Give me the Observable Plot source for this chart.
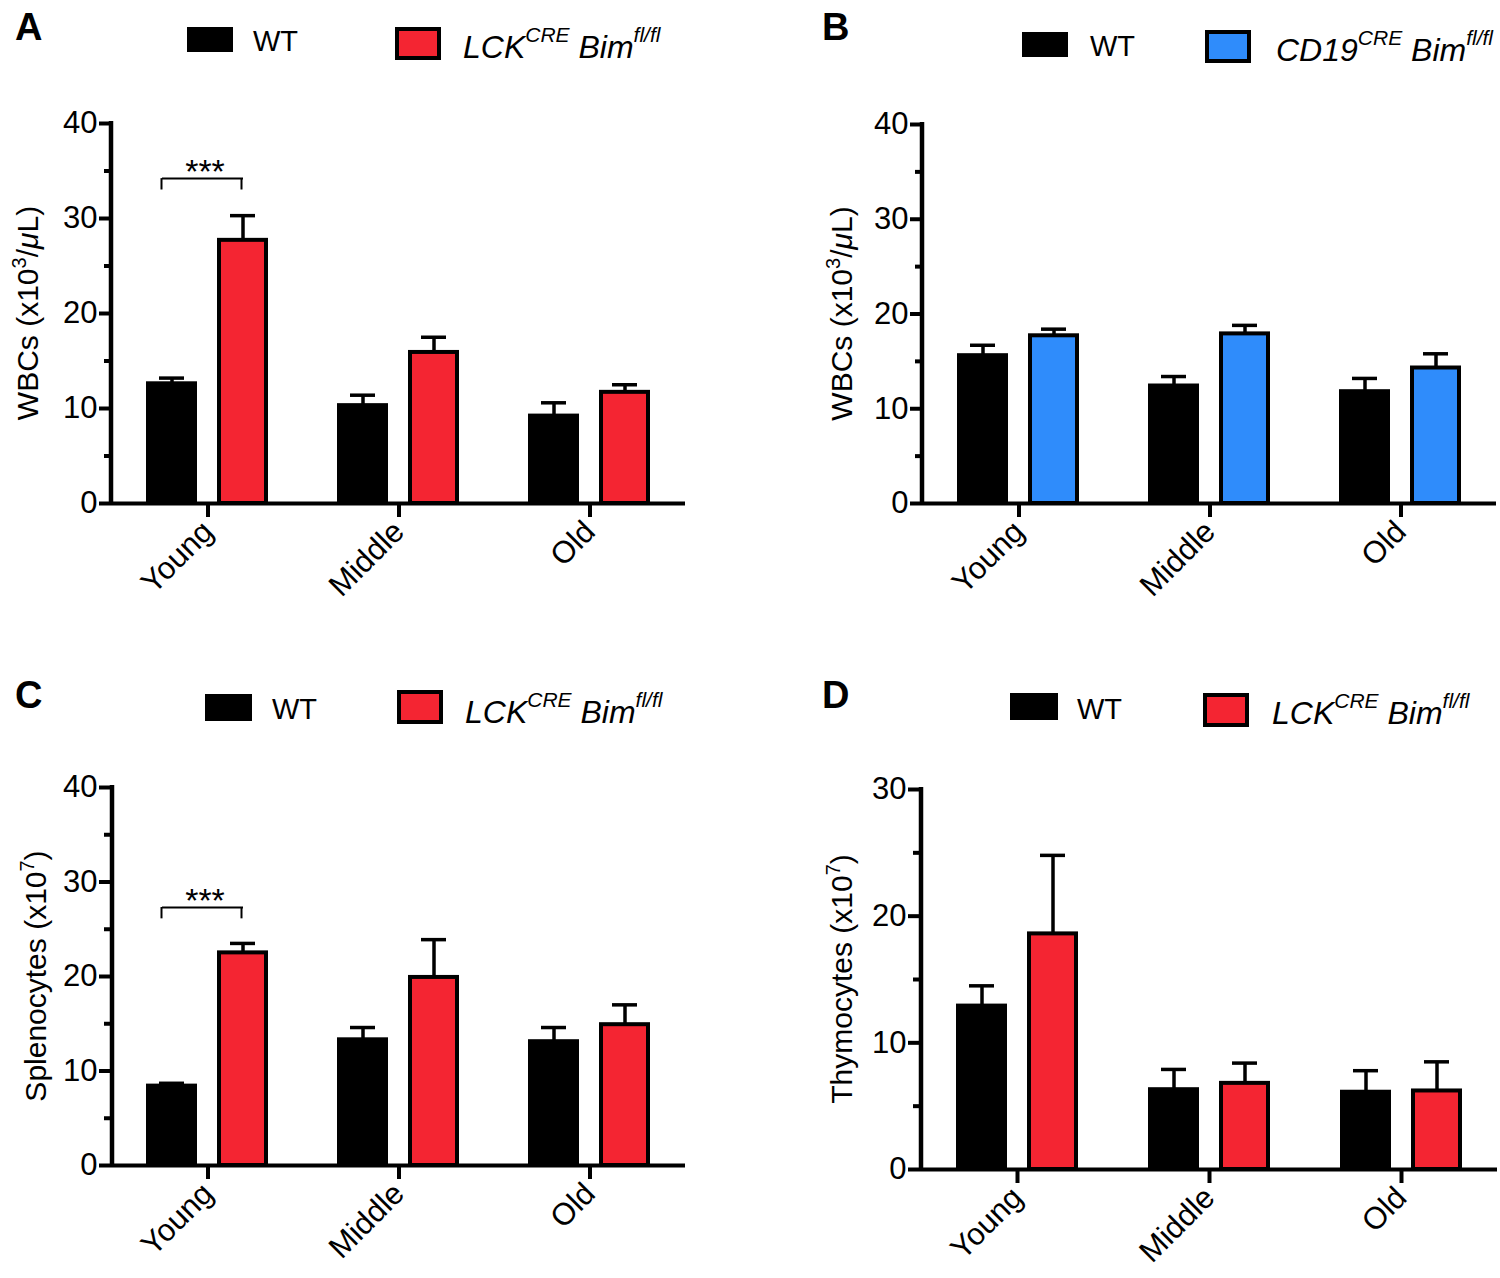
<!DOCTYPE html>
<html>
<head>
<meta charset="utf-8">
<script src="https://cdn.jsdelivr.net/npm/d3@7"></script>
<script src="https://cdn.jsdelivr.net/npm/@observablehq/plot@0.6"></script>
<style>
  html, body { margin: 0; padding: 0; background: #fff; }
  #root { position: relative; width: 1500px; height: 1278px; overflow: hidden; background: #fff;
          font-family: "Liberation Sans", Arial, Helvetica, sans-serif; color: #000; }
  .abs { position: absolute; line-height: 1; white-space: nowrap; }
  .letter { font-weight: bold; font-size: 38px; }
  .leg { font-size: 29px; }
  .legi { font-size: 32px; font-style: italic; }
  .legi sup { font-size: 21px; vertical-align: 0; position: relative; top: -0.75em; }
  .sw { box-sizing: border-box; }
  .panel svg { display: block; overflow: visible; }
  g[aria-label$="axis tick"], g[aria-label$="axis tick"] * { stroke-width: 4px !important; }
</style>
</head>
<body>
<div id="root"></div>
<script>
// ---------------- data ----------------
const groups = ["Young", "Middle", "Old"];
const genotypes = ["WT", "KO"];

// Panel A : WBCs (x10^3/uL), WT vs LCK-Cre Bim fl/fl
const aWT = [12.6, 10.3, 9.2];
const aWTsem = [0.6, 1.1, 1.4];
const aKO = [27.7, 15.9, 11.7];
const aKOsem = [2.6, 1.6, 0.8];

// Panel B : WBCs (x10^3/uL), WT vs CD19-Cre Bim fl/fl
const bWT = [15.6, 12.4, 11.8];
const bWTsem = [1.1, 1.0, 1.4];
const bKO = [17.7, 17.9, 14.3];
const bKOsem = [0.7, 0.9, 1.5];

// Panel C : Splenocytes (x10^7)
const cWT = [8.4, 13.3, 13.1];
const cWTsem = [0.3, 1.3, 1.5];
const cKO = [22.5, 19.9, 14.9];
const cKOsem = [1.0, 4.0, 2.1];

// Panel D : Thymocytes (x10^7)
const dWT = [12.9, 6.3, 6.1];
const dWTsem = [1.6, 1.6, 1.7];
const dKO = [18.6, 6.8, 6.2];
const dKOsem = [6.2, 1.6, 2.3];

const ticks40 = [0, 10, 20, 30, 40];
const minor40 = [5, 15, 25, 35];
const ticks30 = [0, 10, 20, 30];
const minor30 = [5, 15, 25];

// significance annotations (bracket height, leg bottom)
const sigA = [{group: "Young", y: 34.2, yLeg: 33.0, label: "***"}];
const sigC = [{group: "Young", y: 27.3, yLeg: 26.1, label: "***"}];

const RED = "#f42532";
const BLUE = "#2f8cfb";
const FONT = "'Liberation Sans', Arial, Helvetica, sans-serif";

// ---------------- panel builder ----------------
function makePanel(o) {
  const rows = [];
  groups.forEach((g, i) => {
    rows.push({group: g, geno: "WT", mean: o.wt[i], top: o.wt[i] + o.wtSem[i]});
    rows.push({group: g, geno: "KO", mean: o.ko[i], top: o.ko[i] + o.koSem[i]});
  });
  const hasAxes = typeof Plot.axisY === "function" && typeof Plot.axisFx === "function";
  const marks = [
    Plot.ruleX(rows, {fx: "group", x: "geno", y1: "mean", y2: "top", stroke: "#000", strokeWidth: 3.5}),
    Plot.tickY(rows, {fx: "group", x: "geno", y: "top", stroke: "#000", strokeWidth: 3.5, insetLeft: 11, insetRight: 11}),
    Plot.barY(rows, {fx: "group", x: "geno", y1: 0, y2: "mean", fill: "geno", stroke: "#000", strokeWidth: 4}),
    Plot.ruleY([0], {stroke: "#000", strokeWidth: 4})
  ];
  if (o.sig) {
    marks.push(
      Plot.ruleY(o.sig, {fx: "group", y: "y", stroke: "#000", strokeWidth: 2, insetLeft: 50, insetRight: 60}),
      Plot.ruleX(o.sig, {fx: "group", x: () => "WT", y1: "yLeg", y2: "y", stroke: "#000", strokeWidth: 2, dx: -10.5}),
      Plot.ruleX(o.sig, {fx: "group", x: () => "KO", y1: "yLeg", y2: "y", stroke: "#000", strokeWidth: 2, dx: -1.5}),
      Plot.text(o.sig, {fx: "group", y: "y", text: "label", fontSize: 34, dy: -6, dx: -3, fill: "#000"})
    );
  }
  if (hasAxes) {
    marks.push(
      Plot.axisY({ticks: o.ticks, tickSize: 13, strokeWidth: 4, tickPadding: 2, label: null, fontSize: 31}),
      Plot.axisY({ticks: o.minor, tickSize: 8, strokeWidth: 4, tickFormat: () => "", label: null}),
      Plot.axisFx({anchor: "bottom", tickSize: 14, strokeWidth: 4, tickRotate: -45, tickPadding: 9, label: null, fontSize: 31})
    );
  }
  const plot = Plot.plot({
    width: o.width,
    height: o.height,
    marginLeft: o.ml, marginRight: o.mr, marginTop: o.mt, marginBottom: o.mb,
    style: {fontFamily: FONT, fontSize: "31px", color: "#000", background: "transparent", overflow: "visible"},
    fx: hasAxes ? {domain: groups, padding: 0, label: null}
                : {domain: groups, padding: 0, label: null, axis: "bottom", tickRotate: -45, tickSize: 14},
    x: {domain: genotypes, paddingInner: 0.333, paddingOuter: 0.5, axis: null},
    y: hasAxes ? {domain: o.ydomain}
               : {domain: o.ydomain, ticks: o.ticks, tickSize: 13, label: null},
    color: {domain: genotypes, range: ["#000", o.color]},
    marks
  });

  // y axis spine + rotated axis title (drawn in the plot's own svg, using its y scale)
  const svg = plot.tagName.toLowerCase() === "svg" ? plot : plot.querySelector("svg");
  const ys = plot.scale("y");
  const yTop = ys.apply(o.ydomain[1]);
  const yBot = ys.apply(0);
  const g = d3.select(svg);
  g.append("line")
    .attr("x1", o.ml).attr("x2", o.ml)
    .attr("y1", yTop - 2).attr("y2", yBot + 2)
    .attr("stroke", "#000").attr("stroke-width", 4.5);
  const t = g.append("text")
    .attr("transform", `translate(${o.labelX},${(yTop + yBot) / 2}) rotate(-90)`)
    .attr("text-anchor", "middle")
    .attr("font-family", FONT)
    .attr("font-size", 30)
    .attr("fill", "#000");
  let raised = false;
  o.label.forEach(p => {
    const s = t.append("tspan").text(p.t);
    if (p.sup) { s.attr("font-size", 20).attr("dy", -12); raised = true; }
    else if (raised) { s.attr("dy", 12); raised = false; }
    if (p.it) s.attr("font-style", "italic");
  });

  const holder = document.createElement("div");
  holder.className = "panel abs";
  holder.style.left = o.left + "px";
  holder.style.top = o.top + "px";
  holder.appendChild(plot);
  return holder;
}

const root = document.getElementById("root");

const wbcLabel = [{t: "WBCs (x10"}, {t: "3", sup: true}, {t: "/"}, {t: "μ", it: true}, {t: "L)"}];

root.appendChild(makePanel({
  left: 0, top: 80, width: 750, height: 560, ml: 111, mr: 65, mt: 43, mb: 137,
  wt: aWT, wtSem: aWTsem, ko: aKO, koSem: aKOsem, color: RED,
  ydomain: [0, 40], ticks: ticks40, minor: minor40, sig: sigA,
  label: wbcLabel, labelX: 38
}));
root.appendChild(makePanel({
  left: 800, top: 80, width: 700, height: 560, ml: 122, mr: 3, mt: 44, mb: 137,
  wt: bWT, wtSem: bWTsem, ko: bKO, koSem: bKOsem, color: BLUE,
  ydomain: [0, 40], ticks: ticks40, minor: minor40,
  label: wbcLabel, labelX: 52
}));
root.appendChild(makePanel({
  left: 0, top: 740, width: 750, height: 538, ml: 112, mr: 65, mt: 47, mb: 113,
  wt: cWT, wtSem: cWTsem, ko: cKO, koSem: cKOsem, color: RED,
  ydomain: [0, 40], ticks: ticks40, minor: minor40, sig: sigC,
  label: [{t: "Splenocytes (x10"}, {t: "7", sup: true}, {t: ")"}], labelX: 46
}));
root.appendChild(makePanel({
  left: 800, top: 740, width: 700, height: 538, ml: 121, mr: 3, mt: 49, mb: 109,
  wt: dWT, wtSem: dWTsem, ko: dKO, koSem: dKOsem, color: RED,
  ydomain: [0, 30], ticks: ticks30, minor: minor30,
  label: [{t: "Thymocytes (x10"}, {t: "7", sup: true}, {t: ")"}], labelX: 52
}));

// ---------------- panel letters & legends (HTML) ----------------
function addText(html, cls, left, baseline, size) {
  const d = document.createElement("div");
  d.className = "abs " + cls;
  d.innerHTML = html;
  d.style.left = left + "px";
  d.style.top = (baseline - 0.847 * size) + "px";
  root.appendChild(d);
}
function addSwatch(left, top, w, h, fill, border) {
  const d = document.createElement("div");
  d.className = "abs sw";
  Object.assign(d.style, {left: left + "px", top: top + "px", width: w + "px", height: h + "px",
    background: fill, border: border ? "4px solid #000" : "none"});
  root.appendChild(d);
}

const panelLetters = [["A", 15, 40], ["B", 822, 40], ["C", 15, 708], ["D", 822, 708]];
panelLetters.forEach(([l, x, b]) => addText(l, "letter", x, b, 38));

const lckText = "LCK<sup>CRE</sup> Bim<sup>fl/fl</sup>";
const cd19Text = "CD19<sup>CRE</sup> Bim<sup>fl/fl</sup>";
const legends = [
  {wt: [187, 27, 46, 25], wtText: [253, 52], ko: [395, 27, 46, 33], koText: [463, 58], fill: RED, html: lckText},
  {wt: [1022, 32, 46, 25], wtText: [1090, 57], ko: [1205, 30, 46, 33], koText: [1276, 61], fill: BLUE, html: cd19Text},
  {wt: [205, 694, 47, 27], wtText: [272, 720], ko: [397, 690, 46, 34], koText: [465, 723], fill: RED, html: lckText},
  {wt: [1010, 693, 48, 27], wtText: [1077, 720], ko: [1203, 693, 46, 34], koText: [1272, 724], fill: RED, html: lckText}
];
legends.forEach(L => {
  addSwatch(...L.wt, "#000", false);
  addText("WT", "leg", L.wtText[0], L.wtText[1], 29);
  addSwatch(...L.ko, L.fill, true);
  addText(L.html, "legi", L.koText[0], L.koText[1], 32);
});
</script>
</body>
</html>
